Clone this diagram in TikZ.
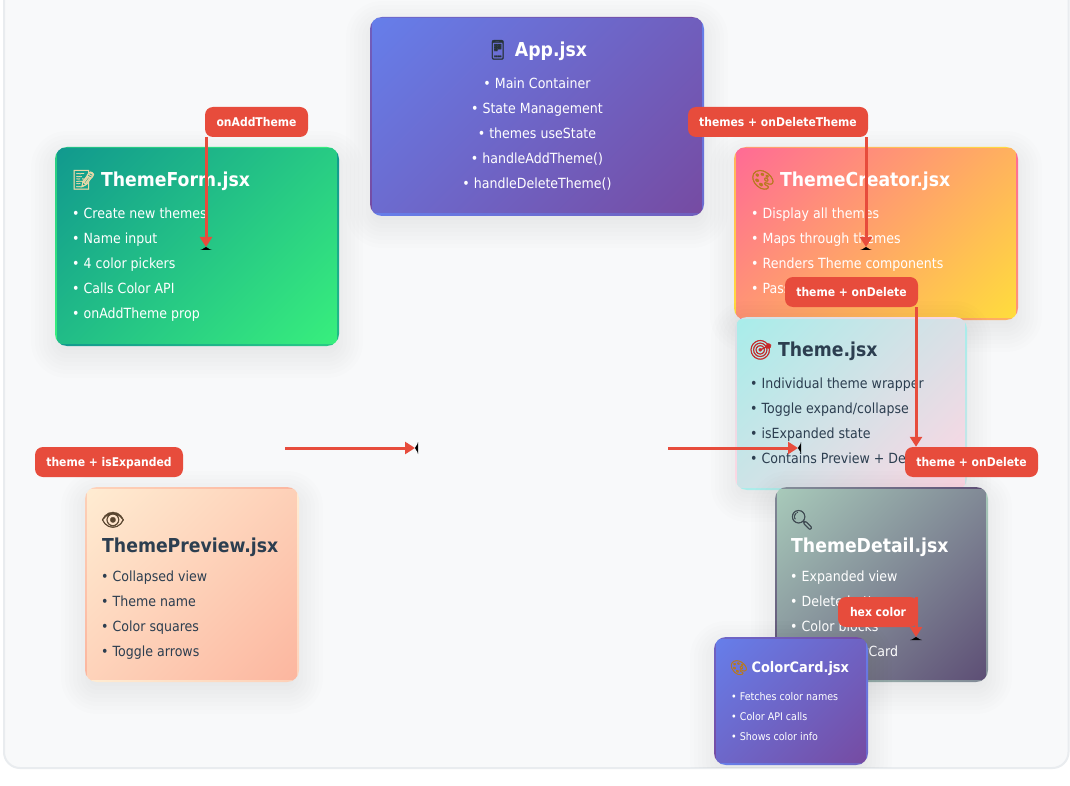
\documentclass[tikz,border=0pt]{standalone}
\usepackage{fontspec}
\setmainfont{DejaVu Sans}[FakeStretch=0.9]
\newfontfamily\emojifont{Noto Emoji}[FakeBold=1.6]
\usetikzlibrary{arrows.meta,calc}
\definecolor{flowred}{HTML}{E74C3C}
\definecolor{inkdark}{HTML}{2C3E50}
\definecolor{panelbg}{HTML}{F8F9FA}
\definecolor{panelline}{HTML}{E9ECEF}
\definecolor{blueA}{HTML}{667EEA}
\definecolor{blueB}{HTML}{764BA2}
\definecolor{greenA}{HTML}{11998E}
\definecolor{greenB}{HTML}{38EF7D}
\definecolor{pinkA}{HTML}{FF6B95}
\definecolor{pinkB}{HTML}{FFDD3C}
\definecolor{aquaA}{HTML}{A8EDEA}
\definecolor{aquaB}{HTML}{FED6E3}
\definecolor{sageA}{HTML}{A8CABA}
\definecolor{sageB}{HTML}{5D4E75}
\definecolor{peachA}{HTML}{FFECD2}
\definecolor{peachB}{HTML}{FCB69F}
\definecolor{emoPhone}{HTML}{263238}
\definecolor{emoMemo}{HTML}{E8D8A8}
\definecolor{emoPalette}{HTML}{B8791F}
\definecolor{emoTarget}{HTML}{C62828}
\definecolor{emoGlass}{HTML}{3F4A52}
\definecolor{emoEye}{HTML}{5A4630}
\tikzset{
  bodytext/.style={inner sep=0pt,anchor=north west,align=left,font=\fontsize{14}{25}\selectfont},
  bodytextc/.style={inner sep=0pt,anchor=north,align=center,font=\fontsize{14}{25}\selectfont},
  smalltext/.style={inner sep=0pt,anchor=north west,align=left,font=\fontsize{10.6}{20}\selectfont},
  titletext/.style={inner sep=0pt,anchor=north west,align=left,font=\bfseries\fontsize{19.2}{26}\selectfont},
  titletextc/.style={inner sep=0pt,anchor=north,align=center,font=\bfseries\fontsize{19.2}{26}\selectfont},
  smalltitle/.style={inner sep=0pt,anchor=north west,align=left,font=\bfseries\fontsize{14.4}{22}\selectfont},
  flowlabel/.style={fill=flowred,text=white,rounded corners=8pt,inner sep=0pt,minimum height=30pt,
    text height=11pt,text depth=2pt,font=\bfseries\fontsize{12}{14}\selectfont},
  flowarrow/.style={draw=flowred,line width=3pt,-{Triangle[length=10pt,width=12pt,color=flowred]}},
  cardanchor/.style={inner sep=0pt,rectangle},
}
% #1 name, #2 x0, #3 y0, #4 x1, #5 y1, #6 colour A, #7 colour B
\newcommand{\gradcard}[7]{%
  \pgfmathsetmacro{\cw}{#4-#2}\pgfmathsetmacro{\ch}{#5-#3}
  \pgfmathsetmacro{\pw}{\cw-4}\pgfmathsetmacro{\ph}{\ch-4}
  \pgfmathsetmacro{\gl}{(\pw+\ph)/sqrt(2)}
  \foreach \sv in {24,20,...,-20}{
    \pgfmathsetmacro{\rc}{max(12+\sv,1)}
    \fill[black,fill opacity=0.007,rounded corners=\rc pt]
      (#2-\sv,#3+8-\sv) rectangle (#4+\sv,#5+8+\sv);
  }
  \begin{scope}
    \clip[rounded corners=12pt] (#2,#3) rectangle (#4,#5);
    \foreach \dx in {-1,0,1}{\foreach \dy in {-1,0,1}{
      \pgfmathsetmacro{\tx}{#2+2+\dx*\pw}
      \pgfmathsetmacro{\ty}{#3+2+\dy*\ph}
      \pgfmathsetmacro{\tcx}{\tx+\pw/2}
      \pgfmathsetmacro{\tcy}{\ty+\ph/2}
      \begin{scope}
        \clip (\tx,\ty) rectangle (\tx+\pw,\ty+\ph);
        \shade[transform canvas={rotate around={-45:(\tcx,\tcy)}},left color=#6,right color=#7]
          (\tcx-\gl/2,\tcy-\gl/2-20) rectangle (\tcx+\gl/2,\tcy+\gl/2+20);
      \end{scope}
    }}
  \end{scope}
  \node[cardanchor,minimum width=\cw pt,minimum height=\ch pt] (#1) at ({(#2+#4)/2},{(#3+#5)/2}) {};
}
% black sliver behind a head pointing down / right
\newcommand{\sliverdown}[1]{\fill[black] ($(#1)+(-6,3)$) .. controls ($(#1)+(-2,2.5)$) and ($(#1)+(-2,0)$) .. ($(#1)+(0,0)$) .. controls ($(#1)+(2,0)$) and ($(#1)+(2,2.5)$) .. ($(#1)+(6,3)$) -- cycle;}
\newcommand{\sliverright}[1]{\fill[black] ($(#1)+(3,-6)$) .. controls ($(#1)+(2.5,-2)$) and ($(#1)+(0,-2)$) .. ($(#1)+(0,0)$) .. controls ($(#1)+(0,2)$) and ($(#1)+(2.5,2)$) .. ($(#1)+(3,6)$) -- cycle;}
\newcommand{\emo}[2]{\hspace*{-1.5pt}{\emojifont\mdseries\color{#1}#2}\hspace{-1pt}}
\begin{document}
\begin{tikzpicture}[x=1pt,y=-1pt]
\useasboundingbox (0,0) rectangle (1070,786);
\fill[white] (0,0) rectangle (1070,786);
\draw[panelline,fill=panelbg,line width=2pt,rounded corners=16pt] (4,-40) rectangle (1068.5,768);

\begin{scope}
\clip (5,-40) rectangle (1067.5,767);
\gradcard{app}{370}{17}{704}{216}{blueA}{blueB}
\gradcard{form}{55}{147}{339}{346}{greenA}{greenB}
\gradcard{creator}{734}{147}{1018}{320}{pinkA}{pinkB}
\gradcard{themecard}{735}{317}{967}{490}{aquaA}{aquaB}
\gradcard{preview}{85}{487}{299}{682}{peachA}{peachB}
\gradcard{detail}{775}{487}{988}{682}{sageA}{sageB}

\node[titletextc,text=white] (appTitle) at (537,38) {\strut\emo{emoPhone}{📱} App.jsx};
\node[bodytextc,text=white] (appBody) at (537,70.5) {\strut• Main Container\\• State Management\\• themes useState\\• handleAddTheme()\\• handleDeleteTheme()};

\node[titletext,text=white] (formTitle) at (73,168) {\strut\emo{emoMemo}{📝} ThemeForm.jsx};
\node[bodytext,text=white] (formBody) at (72,200.5) {\strut• Create new themes\\• Name input\\• 4 color pickers\\• Calls Color API\\• onAddTheme prop};

\node[titletext,text=white] (creatorTitle) at (752,168) {\strut\emo{emoPalette}{🎨} ThemeCreator.jsx};
\node[bodytext,text=white] (creatorBody) at (751,200.5) {\strut• Display all themes\\• Maps through themes\\• Renders Theme components\\• Passes};

\node[titletext,text=inkdark] (themeTitle) at (750,338) {\strut\emo{emoTarget}{🎯} Theme.jsx};
\node[bodytext,text=inkdark] (themeBody) at (750,370.5) {\strut• Individual theme wrapper\\• Toggle expand/collapse\\• isExpanded state\\• Contains Preview + Detail};

\node[titletext,text=inkdark] (previewTitle) at (102,508) {\strut\emo{emoEye}{👁}\\ThemePreview.jsx};
\node[bodytext,text=inkdark] (previewBody) at (101,563.5) {\strut• Collapsed view\\• Theme name\\• Color squares\\• Toggle arrows};

\node[titletext,text=white] (detailTitle) at (791,508) {\strut\emo{emoGlass}{🔍}\\ThemeDetail.jsx};
\node[bodytext,text=white] (detailBody) at (790,563.5) {\strut• Expanded view\\• Delete button\\• Color blocks\\• Uses ColorCard};

% ColorCard sits above the last line of the ThemeDetail text
\gradcard{colorcard}{714}{637}{868}{765}{blueA}{blueB}
\node[smalltitle,text=white] (colorTitle) at (731,657) {\strut\emo{emoPalette}{🎨} ColorCard.jsx};
\node[smalltext,text=white] (colorBody) at (731,686) {\strut• Fetches color names\\• Color API calls\\• Shows color info};
\end{scope}

\coordinate (tipForm) at (206,247);
\coordinate (tipCreator) at (866,247);
\coordinate (tipDetail) at (916,637);
\coordinate (tipLabelTwo) at (916,447);
\coordinate (startLeft) at (285,448);
\coordinate (tipLeft) at (415,448);
\coordinate (startRight) at (668,448);
\coordinate (tipRight) at (798,448);

\node[flowlabel,minimum width=103pt] (lblAdd) at (256.5,122) {onAddTheme};
\node[flowlabel,minimum width=180pt] (lblThemes) at (778,122) {themes + onDeleteTheme};
\node[flowlabel,minimum width=133pt] (lblDeleteA) at (851.5,292) {theme + onDelete};
\node[flowlabel,minimum width=133pt] (lblDeleteB) at (971.5,462) {theme + onDelete};
\node[flowlabel,minimum width=148pt] (lblExpanded) at (109,462) {theme + isExpanded};
\node[flowlabel,minimum width=80pt] (lblHex) at (878,612) {hex color};

\sliverdown{tipForm}
\sliverdown{tipCreator}
\sliverdown{tipDetail}
\sliverright{tipLeft}
\sliverright{tipRight}
\draw[flowarrow] (lblAdd.south -| tipForm) -- (tipForm);
\draw[flowarrow] (lblThemes.south -| tipCreator) -- (tipCreator);
\draw[flowarrow] (lblDeleteA.south -| tipLabelTwo) -- (lblDeleteB.north -| tipLabelTwo);
\draw[flowarrow] (lblHex.north -| tipDetail) -- (tipDetail);
\draw[flowarrow] (startLeft) -- (tipLeft);
\draw[flowarrow] (startRight) -- (tipRight);
\end{tikzpicture}
\end{document}
